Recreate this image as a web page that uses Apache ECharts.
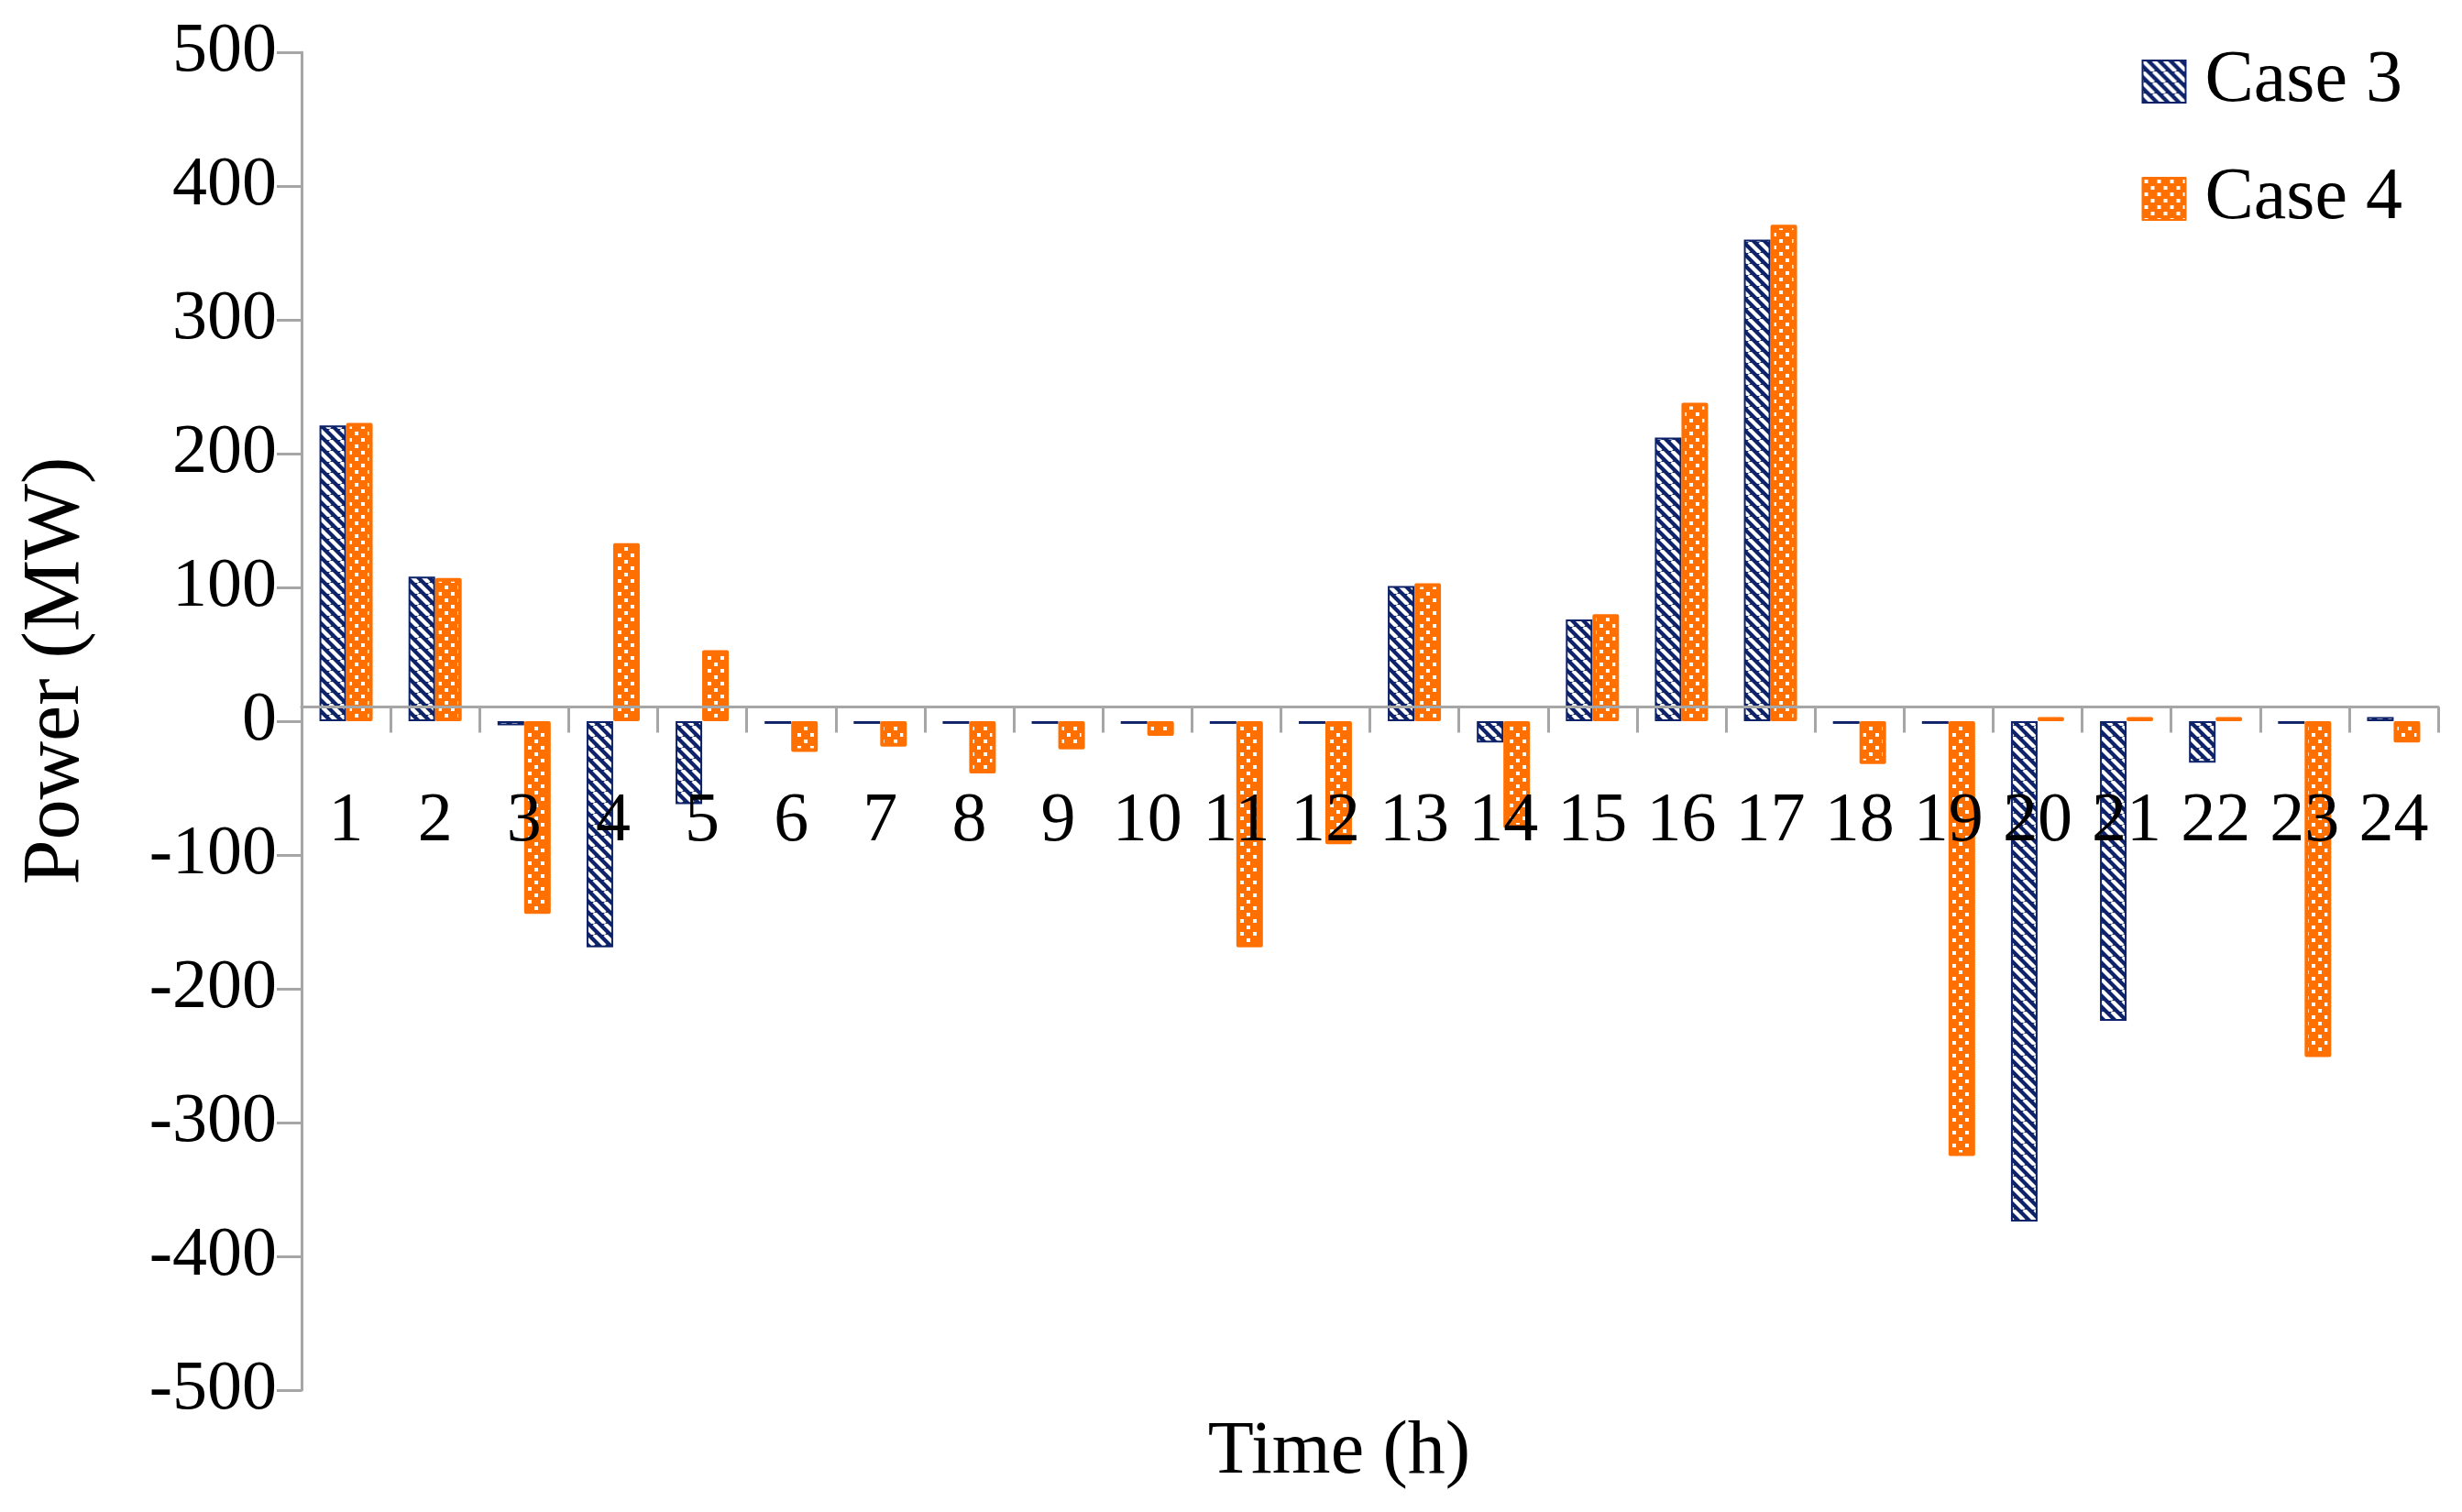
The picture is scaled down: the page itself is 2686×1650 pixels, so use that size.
<!DOCTYPE html>
<html>
<head>
<meta charset="utf-8">
<script src="https://cdn.jsdelivr.net/npm/echarts@6/dist/echarts.min.js"></script>
<style>
html,body{margin:0;padding:0;background:#fff;}
#chart{width:2686px;height:1650px;}
</style>
</head>
<body>
<div id="chart"></div>
<script>
// ---- data ----
const hours = ['1','2','3','4','5','6','7','8','9','10','11','12','13','14','15','16','17','18','19','20','21','22','23','24'];
const case3 = [221, 108, -3, -169, -62, -2, -2, -2, -2, -2, -2, -2, 101, -16, 76, 212, 360, -2, -2, -374, -224, -31, -2, 3];
const case4 = [223, 107, -144, 133, 53, -23, -19, -39, -21, -11, -169, -92, 103, -80, 80, 238, 371, -32, -325, 3, 3, 3, -251, -16];
const yTicks = { min: -500, max: 500, step: 100 };
const seriesNames = ['Case 3', 'Case 4'];

// ---- styles ----
const NAVY = '#0D2268';
const ORANGE = '#FF7000';
const AXIS = '#A6A6A6';
const FONT = '"Liberation Serif", "DejaVu Serif", serif';

function stripeTile() {
  const s = 12;
  const c = document.createElement('canvas');
  c.width = s; c.height = s;
  const g = c.getContext('2d');
  g.fillStyle = NAVY; g.fillRect(0, 0, s, s);
  g.strokeStyle = '#ffffff'; g.lineWidth = 4.2;
  for (const o of [-s, 0, s]) {
    g.beginPath(); g.moveTo(o, 0); g.lineTo(o + s, s); g.stroke();
  }
  return c;
}
function dotTile() {
  const s = 14;
  const c = document.createElement('canvas');
  c.width = s; c.height = s;
  const g = c.getContext('2d');
  g.fillStyle = ORANGE; g.fillRect(0, 0, s, s);
  g.fillStyle = '#ffffff';
  g.fillRect(2, 2, 4, 4);
  g.fillRect(9, 9, 4, 4);
  return c;
}

const GRID = { left: 329, right: 26, top: 57, bottom: 133 };
const chart = echarts.init(document.getElementById('chart'), null, { renderer: 'canvas' });
const baseX = {
  type: 'category',
  data: hours,
  position: 'bottom',
  z: 10,
  offset: 0,
  axisLine: { onZero: false, lineStyle: { color: AXIS, width: 3 } },
  axisTick: { show: true, length: 28, lineStyle: { color: AXIS, width: 3 } },
  axisLabel: { fontFamily: FONT, fontSize: 76, color: '#000', margin: 88, interval: 0 },
  splitLine: { show: false }
};
chart.setOption({
  backgroundColor: '#ffffff',
  animation: false,
  grid: Object.assign({ containLabel: false }, GRID),
  legend: {
    orient: 'vertical',
    right: 60, top: 44,
    itemWidth: 47, itemHeight: 46,
    itemGap: 48,
    icon: 'rect',
    textStyle: { fontFamily: FONT, fontSize: 80, color: '#000', padding: [0, 0, 0, 16] },
    data: seriesNames
  },
  xAxis: baseX,
  yAxis: {
    type: 'value',
    min: yTicks.min, max: yTicks.max, interval: yTicks.step,
    z: 10,
    axisLine: { show: true, lineStyle: { color: AXIS, width: 3 } },
    axisTick: { show: true, length: 27, lineStyle: { color: AXIS, width: 3 } },
    axisLabel: { fontFamily: FONT, fontSize: 76, color: '#000', margin: 27 },
    splitLine: { show: false }
  },
  graphic: [
    { type: 'text', x: 62, y: 732, rotation: Math.PI / 2,
      style: { text: 'Power (MW)', fontFamily: FONT, fontSize: 88, fill: '#000', align: 'center', verticalAlign: 'middle' } },
    { type: 'text', x: 1461, y: 1585,
      style: { text: 'Time (h)', fontFamily: FONT, fontSize: 82, fill: '#000', align: 'center', verticalAlign: 'middle' } }
  ],
  series: [
    {
      name: seriesNames[0], type: 'bar', data: case3,
      barWidth: 29, barGap: '0%',
      itemStyle: { color: { image: stripeTile(), repeat: 'repeat' }, borderColor: NAVY, borderWidth: 2 }
    },
    {
      name: seriesNames[1], type: 'bar', data: case4,
      barWidth: 29, barGap: '0%',
      itemStyle: { color: { image: dotTile(), repeat: 'repeat' }, borderColor: ORANGE, borderWidth: 4, borderJoin: 'round' }
    }
  ]
});
// move the category axis (line, ticks, labels) up to the zero line using the library's own scale
const zeroY = chart.convertToPixel({ yAxisIndex: 0 }, 0);
const bottomY = chart.getHeight() - GRID.bottom;
chart.setOption({ xAxis: { offset: -(bottomY - zeroY) } });
</script>
</body>
</html>
